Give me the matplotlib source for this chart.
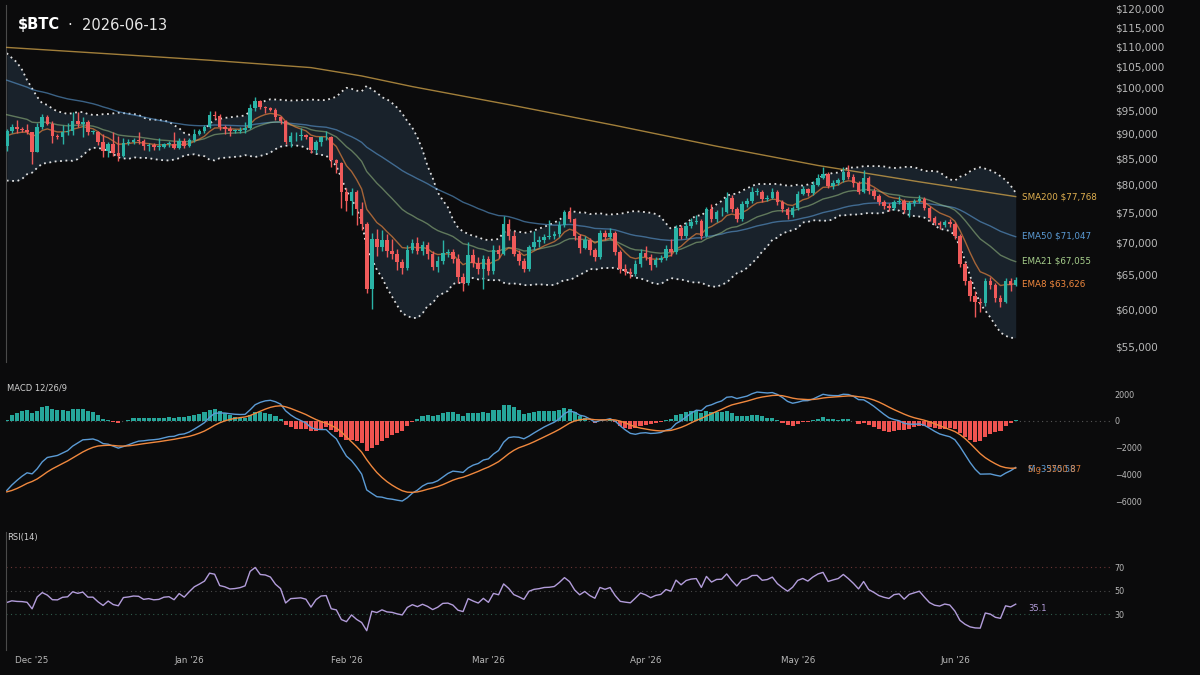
import numpy as np
import pandas as pd
import matplotlib
matplotlib.use('Agg')
import matplotlib.pyplot as plt
from matplotlib.ticker import NullLocator

# daily candles, 2025-11-26 .. 2026-06-13 (values in $k)
dates = pd.date_range('2025-11-26', periods=200, freq='D')
first_open = 87.4
close = np.array([
    90.5, 91.3, 90.9, 90.8, 90.4, 86.3, 91.3, 93.5, 92.1, 89.4,
    89.3, 90.4, 90.6, 92.7, 92.0, 92.5, 90.3, 90.3, 88.2, 86.4,
    87.8, 86.1, 85.5, 88.1, 88.3, 88.6, 88.5, 87.4, 87.6, 87.2,
    87.3, 87.8, 87.9, 87.1, 88.4, 87.5, 88.7, 89.9, 90.6, 91.4,
    93.9, 93.7, 91.3, 91.0, 90.5, 90.6, 90.8, 91.2, 95.4, 97.0,
    95.6, 95.5, 95.1, 93.6, 92.6, 88.3, 89.4, 89.5, 89.6, 89.2,
    86.6, 88.3, 89.2, 89.3, 84.6, 84.1, 78.6, 77.0, 78.7, 75.6,
    73.0, 62.9, 70.5, 69.2, 70.4, 68.6, 68.2, 66.9, 66.0, 68.8,
    69.9, 68.6, 69.5, 68.2, 66.2, 67.0, 68.3, 68.4, 67.4, 64.6,
    63.8, 68.0, 66.8, 65.8, 67.4, 65.5, 68.8, 68.2, 73.0, 71.1,
    68.2, 67.1, 65.8, 69.2, 70.1, 70.4, 70.9, 71.0, 71.3, 72.9,
    75.0, 73.8, 71.0, 69.1, 70.3, 68.7, 67.6, 71.6, 70.9, 71.6,
    68.5, 65.8, 65.4, 65.1, 66.6, 68.3, 67.6, 66.5, 67.2, 67.5,
    69.0, 68.5, 72.4, 71.0, 72.7, 73.3, 73.5, 71.0, 75.6, 73.8,
    75.0, 75.1, 77.6, 75.6, 73.8, 76.5, 77.0, 78.6, 78.7, 77.3,
    77.6, 78.6, 76.8, 75.6, 74.5, 75.8, 78.3, 79.1, 78.4, 80.0,
    81.3, 82.0, 79.7, 80.3, 80.8, 82.4, 81.4, 80.2, 78.7, 81.2,
    78.8, 77.9, 76.8, 76.2, 75.8, 76.8, 77.0, 75.4, 76.6, 77.0,
    77.4, 75.8, 74.1, 73.2, 72.9, 73.3, 73.0, 71.0, 66.6, 64.0,
    61.9, 61.0, 60.8, 64.0, 63.4, 61.6, 61.0, 64.0, 63.5, 64.2])
high = np.array([
    91.0, 91.9, 92.9, 91.3, 91.9, 90.4, 92.3, 94.1, 94.0, 92.7,
    90.0, 91.7, 92.2, 94.6, 94.5, 93.6, 92.8, 90.7, 90.6, 90.0,
    88.2, 90.3, 89.4, 89.0, 88.9, 89.0, 90.4, 88.9, 88.0, 88.0,
    89.0, 88.0, 88.4, 90.4, 89.0, 89.0, 89.0, 90.9, 91.0, 91.7,
    94.7, 94.8, 94.2, 91.7, 91.6, 91.0, 91.3, 92.4, 96.4, 97.9,
    97.2, 95.9, 95.6, 95.5, 93.8, 92.8, 90.4, 90.4, 91.1, 89.8,
    89.3, 88.6, 89.4, 90.5, 89.5, 84.8, 84.2, 79.3, 79.3, 79.0,
    76.9, 73.4, 71.5, 72.2, 72.0, 71.4, 70.5, 69.0, 67.4, 69.6,
    70.5, 70.9, 70.2, 70.1, 68.6, 67.9, 70.3, 69.0, 68.9, 68.1,
    65.2, 70.0, 69.0, 67.6, 68.0, 67.8, 69.5, 69.6, 74.4, 73.8,
    71.8, 68.8, 67.5, 69.6, 71.9, 71.0, 71.4, 73.7, 71.8, 73.5,
    75.5, 76.0, 74.1, 71.4, 71.1, 70.7, 69.1, 72.0, 72.0, 72.4,
    71.9, 68.8, 66.6, 66.0, 67.2, 68.9, 69.4, 68.2, 67.6, 68.0,
    69.6, 70.5, 72.9, 72.8, 73.4, 74.0, 74.6, 73.9, 76.0, 76.4,
    75.5, 75.9, 78.6, 78.0, 76.0, 77.0, 77.6, 79.6, 79.3, 79.0,
    78.1, 79.4, 79.0, 77.2, 75.9, 76.2, 78.8, 79.8, 79.4, 80.6,
    82.0, 83.3, 82.3, 80.8, 81.3, 83.3, 83.6, 81.9, 80.6, 82.8,
    81.5, 79.3, 78.3, 77.2, 76.6, 77.2, 77.9, 77.3, 77.0, 77.4,
    78.0, 77.8, 76.1, 74.4, 73.5, 73.7, 73.8, 73.3, 71.3, 66.9,
    64.3, 62.5, 61.5, 64.5, 64.6, 63.8, 62.0, 64.4, 64.4, 64.6])
low = np.array([
    86.4, 90.1, 90.2, 90.4, 89.9, 83.8, 86.2, 90.9, 91.7, 88.1,
    88.9, 87.8, 89.6, 89.7, 91.3, 89.3, 89.7, 89.9, 87.6, 85.3,
    85.3, 85.5, 84.4, 85.2, 87.6, 87.9, 87.9, 86.7, 86.5, 86.7,
    86.6, 87.1, 87.2, 86.9, 86.8, 87.0, 87.2, 88.3, 89.6, 90.2,
    91.2, 93.0, 90.8, 89.9, 89.5, 90.1, 90.2, 90.1, 90.9, 94.8,
    95.2, 94.3, 94.8, 92.9, 91.9, 87.9, 87.3, 88.4, 88.7, 88.8,
    86.1, 86.1, 87.5, 88.7, 83.3, 82.2, 75.8, 75.3, 74.5, 72.9,
    72.0, 62.3, 60.0, 67.8, 68.6, 67.7, 67.4, 65.6, 65.1, 65.7,
    68.3, 68.2, 68.0, 67.3, 65.6, 65.4, 66.6, 67.6, 66.8, 63.8,
    62.5, 63.4, 66.2, 65.0, 62.9, 64.9, 65.0, 67.5, 68.0, 70.3,
    67.8, 66.5, 65.3, 65.5, 68.7, 69.2, 69.9, 70.6, 70.5, 70.9,
    72.6, 73.3, 70.3, 68.3, 68.9, 68.0, 67.0, 67.3, 70.4, 70.5,
    68.0, 65.2, 64.9, 64.4, 64.7, 66.2, 67.2, 65.7, 66.1, 66.9,
    67.2, 67.9, 68.2, 70.5, 70.7, 72.3, 73.0, 70.5, 70.8, 73.3,
    73.4, 74.4, 74.9, 75.1, 73.3, 73.5, 76.0, 76.7, 78.0, 76.9,
    77.0, 77.3, 76.3, 75.1, 73.8, 74.2, 75.5, 78.0, 77.9, 78.0,
    79.7, 81.0, 79.3, 79.2, 80.0, 80.5, 81.0, 79.6, 78.2, 78.4,
    78.3, 77.4, 76.3, 75.6, 75.2, 75.5, 76.4, 74.9, 74.3, 76.2,
    76.7, 75.4, 73.6, 72.8, 72.2, 72.6, 72.5, 70.6, 66.1, 63.4,
    61.2, 58.9, 59.6, 60.4, 62.8, 61.0, 60.3, 60.8, 62.6, 63.3])
# closes 2025-11-07 .. 2025-11-25, only used to start the Bollinger window
warmup_close = np.array([103.4, 102.3, 104.7, 105.9, 103.0, 101.6, 99.7, 94.4, 95.5, 94.2,
                         92.2, 92.9, 91.5, 86.6, 85.1, 84.7, 86.8, 88.3, 87.4])

# SMA200 at some candles
sma_idx = [0, 20, 40, 60, 70, 80, 100, 120, 140, 160, 180, 199]
sma_val = [109.8, 108.2, 106.6, 104.8, 102.8, 100.3, 96.0, 91.7, 87.4, 83.6, 80.5, 77.8]

# starting values of the indicators on the first candle
ema8_start, ema21_start, ema50_start = 89.5, 94.0, 101.8
ema12_start, ema26_start, signal_start = 91.0, 96.2, -5.3
rsi_gain_start, rsi_loss_start = 1.0, 1.5

end_labels = ['SMA200 $77,768', 'EMA50 $71,047', 'EMA21 $67,055', 'EMA8 $63,626']
end_values = [77768, 71047, 67055, 63626]
macd_labels = ['M -3570.58', 'Sig -3550.87']
rsi_label = '35.1'

close = close * 1000
high = high * 1000
low = low * 1000
opens = np.concatenate([[first_open * 1000], close[:-1]])


def ema(v, n, start):
    a = 2 / (n + 1)
    out = np.empty(len(v))
    out[0] = start
    for i in range(1, len(v)):
        out[i] = out[i - 1] + a * (v[i] - out[i - 1])
    return out


ema8 = ema(close, 8, ema8_start * 1000)
ema21 = ema(close, 21, ema21_start * 1000)
ema50 = ema(close, 50, ema50_start * 1000)

allc = pd.Series(np.concatenate([warmup_close * 1000, close]))
mid = allc.rolling(20).mean().values[-200:]
sd = allc.rolling(20).std(ddof=0).values[-200:]
bb_up = mid + 2 * sd
bb_lo = mid - 2 * sd

macd = ema(close, 12, ema12_start * 1000) - ema(close, 26, ema26_start * 1000)
macd[0] = (ema12_start - ema26_start) * 1000
signal = ema(macd, 9, signal_start * 1000)
hist = macd - signal

rsi = np.empty(len(close))
ag, al = rsi_gain_start * 1000, rsi_loss_start * 1000
rsi[0] = 100 - 100 / (1 + ag / al)
for i in range(1, len(close)):
    d = close[i] - close[i - 1]
    ag = (ag * 13 + max(d, 0)) / 14
    al = (al * 13 + max(-d, 0)) / 14
    rsi[i] = 100 - 100 / (1 + ag / al)

# ---- style
BG = '#0b0b0c'
TEAL = '#2ab3a6'
RED = '#ef5a5a'
TXT = '#b8b8b8'
SPINE = '#4a4a4a'

W, H = 1200, 675
fig = plt.figure(figsize=(12, 6.75), dpi=100, facecolor=BG)


def axes_px(x0, y0, x1, y1):
    return fig.add_axes([x0 / W, 1 - y1 / H, (x1 - x0) / W, (y1 - y0) / H], facecolor=BG)


ax = axes_px(6, 5, 1110, 362)
ax2 = axes_px(6, 380, 1110, 520)
ax3 = axes_px(6, 532, 1110, 649.5)

x = np.arange(len(close))
xmin, xmax = -0.15, 217.6

for a in (ax, ax2, ax3):
    a.set_xlim(xmin, xmax)
    for s in a.spines.values():
        s.set_visible(False)
    a.tick_params(axis='both', length=0, colors=TXT)
    a.yaxis.tick_right()
    a.set_xticks([])
ax.spines['left'].set_visible(True)
ax.spines['left'].set_color(SPINE)
ax3.spines['left'].set_visible(True)
ax3.spines['left'].set_color(SPINE)

# ---- price panel
ax.set_yscale('log')
ax.set_ylim(53100, 121100)
ax.fill_between(x, bb_lo, bb_up, color='#19222b', lw=0, zorder=1)
ax.plot(x, bb_up, color='#e0e0e0', lw=1.3, ls=(0, (1, 2)), zorder=2)
ax.plot(x, bb_lo, color='#e0e0e0', lw=1.3, ls=(0, (1, 2)), zorder=2)

ax.plot(sma_idx, np.array(sma_val) * 1000, color='#d4a64a', lw=1, alpha=0.75, zorder=3)
ax.plot(x, ema50, color='#5b9bd5', lw=1, alpha=0.6, zorder=3)
ax.plot(x, ema21, color='#a8d08d', lw=1, alpha=0.5, zorder=3)
ax.plot(x, ema8, color='#f0883e', lw=1, alpha=0.65, zorder=3)

up = close >= opens
cols = np.where(up, TEAL, RED)
ax.vlines(x, low, high, color=cols, lw=1, zorder=4)
body = np.maximum(np.abs(close - opens), close * 0.002)
ax.bar(x, body, bottom=np.minimum(opens, close), width=0.7, color=cols, zorder=5)

yt = np.arange(55000, 120001, 5000)
ax.set_yticks(yt)
ax.set_yticklabels([f'${v:,.0f}' for v in yt], fontsize=7.5)
ax.yaxis.set_minor_locator(NullLocator())

lab_cols = ['#e0b050', '#5b9bd5', '#a8d08d', '#f0883e']
for t, v, c in zip(end_labels, end_values, lab_cols):
    ax.text(200.3, v, t, color=c, fontsize=6.3, va='center', ha='left')

fig.text(18 / W, 1 - 25 / H, '\\$BTC', color='white', fontsize=10.5, fontweight='bold', va='center')
fig.text(68 / W, 1 - 25 / H, '\u00b7  2026-06-13', color='#e6e6e6', fontsize=10.5, va='center')

# ---- MACD panel
ax2.set_ylim(-7400, 3050)
ax2.bar(x, hist, width=0.8, color=np.where(hist >= 0, '#26a69a', '#ef5350'), zorder=2)
ax2.axhline(0, color='#555555', lw=0.8, ls=(0, (1, 3)), zorder=1)
ax2.plot(x, macd, color='#5b9bd5', lw=1, zorder=3)
ax2.plot(x, signal, color='#f0883e', lw=1, zorder=3)
ax2.set_yticks([2000, 0, -2000, -4000, -6000])
ax2.set_yticklabels(['2000', '0', '\u22122000', '\u22124000', '\u22126000'], fontsize=5.8)
ax2.text(0.001, 0.94, 'MACD 12/26/9', transform=ax2.transAxes, color='#d0d0d0', fontsize=6, va='center')
ax2.text(201.4, -3600, macd_labels[0], color='#5b9bd5', fontsize=6, va='center')
ax2.text(201.4, -3600, macd_labels[1], color='#f0883e', fontsize=6, va='center', alpha=0.85)

# ---- RSI panel
ax3.set_ylim(0, 100)
ax3.axhline(70, color='#6b3535', lw=0.8, ls=(0, (1, 3)))
ax3.axhline(50, color='#4a4a4a', lw=0.8, ls=(0, (1, 3)))
ax3.axhline(30, color='#2f5a4a', lw=0.8, ls=(0, (1, 3)))
ax3.plot(x, rsi, color='#b39ddb', lw=1)
ax3.set_yticks([70, 50, 30])
ax3.set_yticklabels(['70', '50', '30'], fontsize=5.8)
ax3.text(0.001, 0.955, 'RSI(14)', transform=ax3.transAxes, color='#d0d0d0', fontsize=6, va='center')
ax3.text(201.4, float(rsi_label), rsi_label, color='#b39ddb', fontsize=6, va='center')

month_pos = [i for i, d in enumerate(dates) if d.day == 1]
ax3.set_xticks(month_pos)
ax3.set_xticklabels([dates[i].strftime("%b '%y") for i in month_pos], fontsize=6.3, color=TXT)
ax3.tick_params(axis='x', pad=5)

fig.savefig('out.png', dpi=100, facecolor=BG)
